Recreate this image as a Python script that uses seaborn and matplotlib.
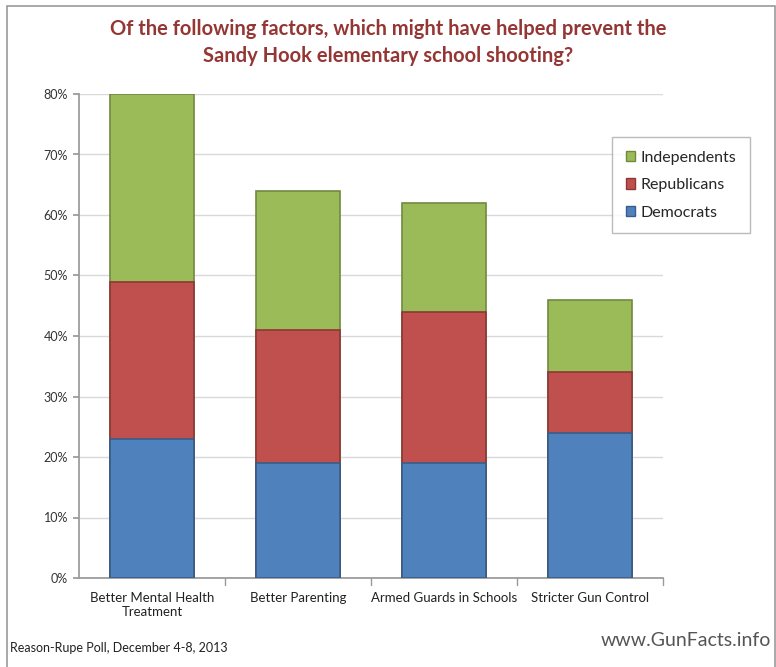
import matplotlib
matplotlib.use("Agg")
import matplotlib.pyplot as plt
import seaborn as sns
import numpy as np
import pandas as pd
from matplotlib.patches import Rectangle, Patch

categories = ["Better Mental Health\nTreatment", "Better Parenting", "Armed Guards in Schools", "Stricter Gun Control"]
democrats = [23, 19, 19, 24]
republicans = [26, 22, 25, 10]
independents = [31, 23, 18, 12]
yticks = [0, 10, 20, 30, 40, 50, 60, 70, 80]

sns.set_theme(style="white")
plt.rcParams['font.family'] = ['Lato', 'DejaVu Sans']

fig = plt.figure(figsize=(7.76, 6.67), dpi=100)
ax = fig.add_axes([79 / 776, 1 - 578 / 667, 584 / 776, 484 / 667])

d = np.array(democrats)
r = d + np.array(republicans)
i = r + np.array(independents)
df = pd.DataFrame({"cat": categories, "D": d, "R": r, "I": i})

layers = [("I", "#9BBB59", "#71893F"), ("R", "#C0504D", "#8C3836"), ("D", "#4F81BD", "#385D8A")]
for col, c, ec in layers:
    sns.barplot(data=df, x="cat", y=col, color=c, width=0.57, ax=ax,
                edgecolor=ec, linewidth=1.2, saturation=1, zorder=3)

ax.set_xlim(-0.5, 3.5)
ax.set_ylim(0, 80)
ax.set_yticks(yticks)
ax.set_yticklabels([f"{v}%" for v in yticks], fontsize=9, color="#333333")
ax.set_xlabel("")
ax.set_ylabel("")
ax.tick_params(axis="x", labelsize=9.5, colors="#222222", length=0, pad=10)
ax.tick_params(axis="y", length=4, color="#999999", left=True, pad=4)
ax.yaxis.grid(True, color="#D9D9D9", linewidth=1, zorder=0)
ax.set_axisbelow(True)
for s in ["top", "right"]:
    ax.spines[s].set_visible(False)
ax.spines["left"].set_color("#999999")
ax.spines["bottom"].set_color("#999999")
ax.set_xticks([0, 1, 2, 3])
ax.set_xticklabels(categories)
for xb in [0.5, 1.5, 2.5, 3.5]:
    ax.plot([xb, xb], [0, -1.2], color="#999999", lw=1, clip_on=False)

handles = [Patch(facecolor="#9BBB59", edgecolor="#71893F", label="Independents"),
           Patch(facecolor="#C0504D", edgecolor="#8C3836", label="Republicans"),
           Patch(facecolor="#4F81BD", edgecolor="#385D8A", label="Democrats")]
leg = fig.legend(handles=handles, loc="upper left", bbox_to_anchor=(612 / 776, 1 - 137 / 667),
                 borderaxespad=0, fontsize=11.5, frameon=True, fancybox=False, handlelength=0.6,
                 handleheight=0.6, handletextpad=0.35, labelspacing=0.85,
                 borderpad=0.85, edgecolor="#AAAAAA")
leg.get_frame().set_linewidth(1)

fig.text(0.5, 0.972, "Of the following factors, which might have helped prevent the\nSandy Hook elementary school shooting?",
         ha="center", va="top", fontsize=14.5, fontweight="bold", color="#943634", linespacing=1.45)
fig.text(0.013, 0.028, "Reason-Rupe Poll, December 4-8, 2013", ha="left", va="center", fontsize=9, color="#222222")
fig.text(0.993, 0.04, "www.GunFacts.info", ha="right", va="center", fontsize=14, color="#555555")

fig.patches.append(Rectangle((0.009, -0.01), 0.99, 1.001, transform=fig.transFigure,
                             fill=False, edgecolor="#999999", linewidth=1.2))

fig.savefig("out.png", dpi=100)
